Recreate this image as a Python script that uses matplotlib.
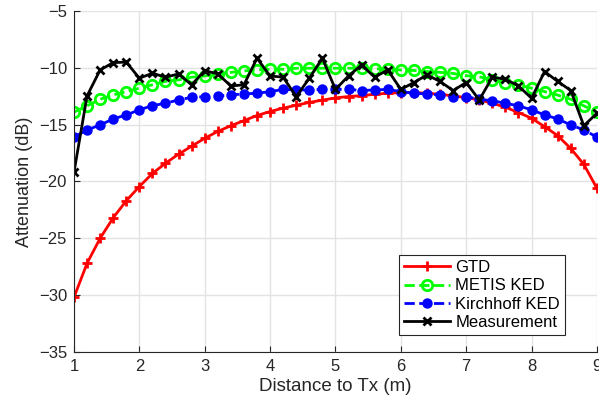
import numpy as np
import matplotlib
matplotlib.use("Agg")
import matplotlib.pyplot as plt

plt.rcParams["font.family"] = ["Liberation Sans", "DejaVu Sans"]

# distance to Tx (m), 0.2 m steps
dist = np.round(np.arange(1.0, 9.0001, 0.2), 1)

gtd = [-30.2, -27.2, -25.0, -23.2, -21.7, -20.45, -19.3, -18.4, -17.6, -16.9,
       -16.2, -15.6, -15.1, -14.65, -14.2, -13.85, -13.55, -13.3, -13.05, -12.85,
       -12.65, -12.53, -12.45, -12.33, -12.24, -12.18, -12.18, -12.24, -12.33, -12.48,
       -12.62, -12.83, -13.12, -13.47, -13.94, -14.44, -15.18, -15.97, -17.1, -18.5,
       -20.6]
metis = [-13.9, -13.35, -12.77, -12.39, -12.1, -11.8, -11.5, -11.2, -11.07, -10.83,
         -10.72, -10.54, -10.4, -10.28, -10.19, -10.13, -10.13, -10.04, -10.04, -10.04,
         -10.04, -10.04, -10.04, -10.1, -10.1, -10.2, -10.24, -10.33, -10.4, -10.5,
         -10.7, -10.8, -11.05, -11.3, -11.5, -11.8, -12.1, -12.4, -12.77, -13.35,
         -13.9]
kirchhoff = [-16.1, -15.47, -15.03, -14.5, -14.15, -13.7, -13.33, -13.12, -12.83, -12.6,
             -12.54, -12.48, -12.39, -12.3, -12.24, -12.1, -11.9, -11.95, -11.95, -11.9,
             -11.9, -11.9, -12.0, -11.95, -11.9, -12.1, -12.24, -12.3, -12.39, -12.54,
             -12.54, -12.77, -12.9, -13.12, -13.35, -13.7, -14.15, -14.5, -15.03, -15.47,
             -16.1]
measured = [-19.2, -12.48, -10.19, -9.55, -9.5, -10.92, -10.48, -10.83, -10.54, -11.5,
            -10.25, -10.54, -11.6, -11.5, -9.16, -10.72, -10.83, -12.54, -10.92, -9.16,
            -11.9, -10.72, -9.75, -10.83, -10.19, -11.9, -11.3, -10.63, -11.2, -12.0,
            -11.3, -12.83, -10.83, -11.0, -11.6, -12.68, -10.33, -11.2, -12.0, -15.1,
            -14.0]

fig = plt.figure(figsize=(5.99, 4.05), dpi=100)
ax = fig.add_axes([0.1235, 0.131, 0.873, 0.842])

ax.plot(dist, gtd, "-+", color="red", lw=2, ms=7, mew=2, label="GTD")
ax.plot(dist, metis, "--o", color="#00ff00", lw=2, ms=7.5, mew=2, mfc="none", label="METIS KED")
ax.plot(dist, kirchhoff, "--o", color="blue", lw=2, ms=6.5, mew=1, label="Kirchhoff KED")
ax.plot(dist, measured, "-x", color="black", lw=2, ms=6, mew=2, label="Measurement")

ax.set_xlim(1, 9)
ax.set_ylim(-35, -5)
ax.set_xticks(range(1, 10))
ax.set_yticks(range(-35, -4, 5))
ax.grid(True, color="#e3e3e3", lw=1)
ax.set_axisbelow(True)
ax.tick_params(direction="in", labelsize=12, length=4, pad=5, colors="#262626")
for side in ("top", "right"):
    ax.spines[side].set_visible(False)
for side in ("left", "bottom"):
    ax.spines[side].set_color("#262626")
ax.set_xlabel("Distance to Tx (m)", fontsize=13.5, color="#262626", labelpad=3)
ax.set_ylabel("Attenuation (dB)", fontsize=13, color="#262626", labelpad=4)

leg = ax.legend(loc="lower right", bbox_to_anchor=(0.955, 0.025), fontsize=12,
                fancybox=False, edgecolor="#262626", framealpha=1,
                handlelength=2.8, borderpad=0.3, labelspacing=0.2, handletextpad=0.3)
leg.get_frame().set_linewidth(0.8)

fig.savefig("out.png", dpi=100, facecolor="white")
